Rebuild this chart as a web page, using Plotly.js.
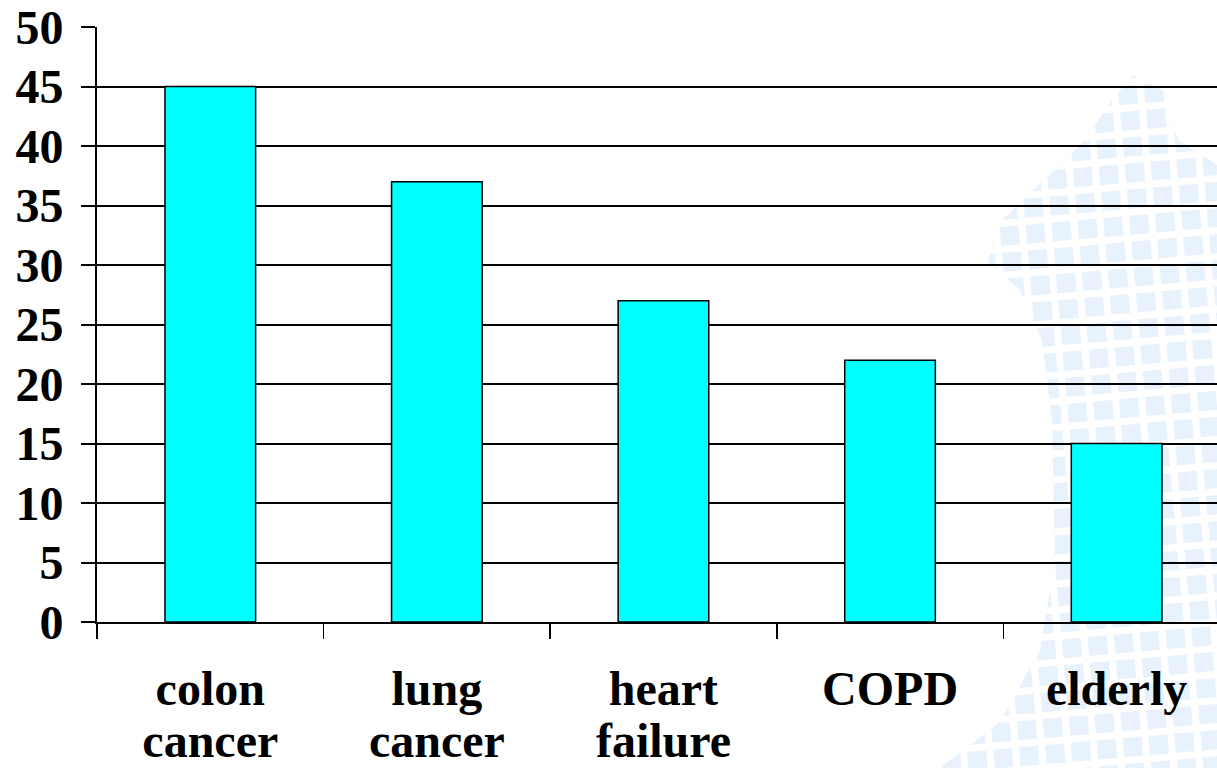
<!DOCTYPE html>
<html>
<head>
<meta charset="utf-8">
<script src="https://cdn.plot.ly/plotly-3.0.1.min.js"></script>
<style>
  html, body { margin: 0; padding: 0; background: #ffffff; }
  #wrap { position: relative; width: 1217px; height: 768px; overflow: hidden; }
  #deco {
    position: absolute; left: 0; top: 0; width: 1217px; height: 768px;
    clip-path: polygon(1133px 75px, 1165px 92px, 1178px 140px, 1217px 165px, 1217px 768px, 940px 768px, 1000px 722px, 1040px 650px, 1055px 560px, 1052px 420px, 1042px 340px, 1020px 290px, 988px 262px, 1000px 222px, 1042px 182px, 1085px 140px, 1112px 100px);
  }
  #deco .grid {
    position: absolute; left: 800px; top: -100px; width: 600px; height: 1000px;
    background-color: #e8f2fc;
    background-image: linear-gradient(#ffffff 7px, transparent 7px), linear-gradient(90deg, #ffffff 7px, transparent 7px);
    background-size: 26px 26px;
    transform: rotate(-5deg);
  }
  #chart { position: absolute; left: 0; top: 0; width: 1217px; height: 768px; }
</style>
</head>
<body>
<div id="wrap">
  <div id="deco"><div class="grid"></div></div>
  <div id="chart"></div>
</div>
<script>
const categories = ["colon<br>cancer", "lung<br>cancer", "heart<br>failure", "COPD", "elderly"];
const values = [45, 37, 27, 22, 15];
const yTickValues = [0, 5, 10, 15, 20, 25, 30, 35, 40, 45, 50];

const fontFamily = "Liberation Serif";
const tickFont = { family: fontFamily, size: 48, color: "#000000", weight: "bold" };

const trace = {
  type: "bar",
  x: categories,
  y: values,
  width: 0.4,
  marker: { color: "#00ffff", line: { color: "#000000", width: 1.5 } },
  hoverinfo: "skip"
};

const layout = {
  width: 1217,
  height: 768,
  margin: { l: 97, r: 0, t: 27, b: 146, pad: 0 },
  paper_bgcolor: "rgba(0,0,0,0)",
  plot_bgcolor: "rgba(0,0,0,0)",
  showlegend: false,
  font: { family: fontFamily, size: 48, color: "#000000" },
  xaxis: {
    type: "category",
    range: [-0.5, 4.443],
    tickson: "boundaries",
    ticks: "outside",
    ticklen: 15,
    tickwidth: 1.5,
    tickcolor: "#000000",
    showgrid: false,
    showline: true,
    linecolor: "#000000",
    linewidth: 2,
    ticklabelstandoff: 23,
    tickfont: tickFont,
    fixedrange: true
  },
  yaxis: {
    range: [0, 50],
    tickvals: yTickValues,
    ticktext: yTickValues.map(String),
    ticks: "outside",
    ticklen: 14,
    tickwidth: 2,
    tickcolor: "#000000",
    showgrid: true,
    gridcolor: "#000000",
    gridwidth: 2,
    zeroline: false,
    showline: true,
    linecolor: "#000000",
    linewidth: 2,
    ticklabelstandoff: 8,
    tickfont: tickFont,
    fixedrange: true
  },
  bargap: 0.6
};

Plotly.newPlot("chart", [trace], layout, { displayModeBar: false, staticPlot: true }).then(function () {
  document.querySelectorAll(".xtick text tspan.line").forEach(function (t) {
    if (t.getAttribute("dy") && t.getAttribute("dy") !== "0em") t.setAttribute("dy", "1.1em");
  });
});
</script>
</body>
</html>
